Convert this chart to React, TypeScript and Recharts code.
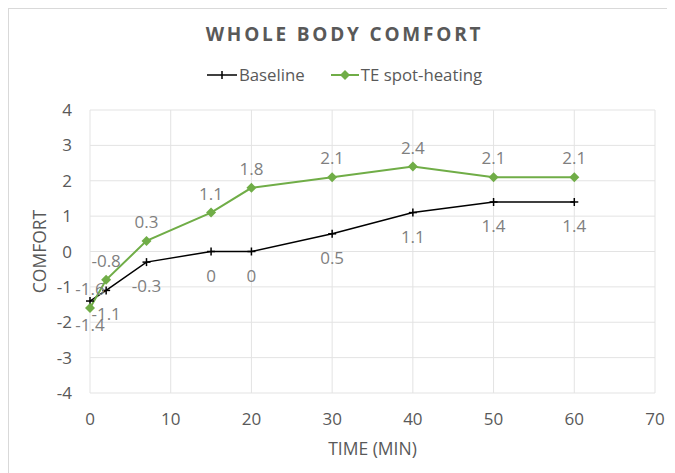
import React from "react";
import { LineChart, Line, XAxis, YAxis, CartesianGrid, LabelList } from "recharts";

const minutes = [0, 2, 7, 15, 20, 30, 40, 50, 60];
const baseline = [-1.4, -1.1, -0.3, 0, 0, 0.5, 1.1, 1.4, 1.4];
const spotHeating = [-1.6, -0.8, 0.3, 1.1, 1.8, 2.1, 2.4, 2.1, 2.1];
const xTicks = [0, 10, 20, 30, 40, 50, 60, 70];
const yTicks = [-4, -3, -2, -1, 0, 1, 2, 3, 4];

const chartData = minutes.map((t, i) => ({ t, baseline: baseline[i], te: spotHeating[i] }));

const FONT = "'Open Sans', sans-serif";
const GREEN = "#70ad47";
const TEXT = "#595959";
const LABEL = "#7f7f7f";

function PlusDot(props: any) {
  const { cx, cy } = props;
  if (cx == null || cy == null) return null;
  return (
    <g>
      <line x1={cx - 4} y1={cy} x2={cx + 4} y2={cy} stroke="#000" strokeWidth={1.5} />
      <line x1={cx} y1={cy - 4} x2={cx} y2={cy + 4} stroke="#000" strokeWidth={1.5} />
    </g>
  );
}

function DiamondDot(props: any) {
  const { cx, cy } = props;
  if (cx == null || cy == null) return null;
  return <path d={`M${cx},${cy - 5}L${cx + 5},${cy}L${cx},${cy + 5}L${cx - 5},${cy}Z`} fill={GREEN} />;
}

function ChartLegend() {
  return (
    <div
      style={{
        position: "absolute",
        top: 54,
        left: -2,
        width: 675,
        display: "flex",
        justifyContent: "center",
        alignItems: "center",
        fontFamily: FONT,
        fontSize: 16.8,
        color: TEXT,
      }}
    >
      <svg width={30} height={10} style={{ marginRight: 2 }}>
        <line x1={0} y1={5} x2={30} y2={5} stroke="#000" strokeWidth={1.5} />
        <line x1={15} y1={1} x2={15} y2={9} stroke="#000" strokeWidth={1.5} />
      </svg>
      <span style={{ marginRight: 26 }}>Baseline</span>
      <svg width={28} height={10} style={{ marginRight: 2 }}>
        <line x1={0} y1={5} x2={28} y2={5} stroke={GREEN} strokeWidth={2} />
        <path d="M14,0L19,5L14,10L9,5Z" fill={GREEN} />
      </svg>
      <span>TE spot-heating</span>
    </div>
  );
}

export default function App() {
  return (
    <div
      style={{
        position: "relative",
        width: 667,
        height: 465,
        borderTop: "1px solid #d9d9d9",
        borderLeft: "1px solid #d9d9d9",
        boxSizing: "border-box",
        background: "#fff",
        overflow: "hidden",
      }}
    >
      <div
        style={{
          position: "absolute",
          top: 12,
          left: -2,
          width: 675,
          textAlign: "center",
          fontFamily: FONT,
          fontWeight: 700,
          fontSize: 19,
          letterSpacing: 2.8,
          color: TEXT,
        }}
      >
        WHOLE BODY COMFORT
      </div>
      <ChartLegend />
      <LineChart
        width={666}
        height={464}
        data={chartData}
        margin={{ top: 101, right: 19, left: 22, bottom: 50 }}
        style={{ position: "absolute", top: 0, left: -1 }}
      >
        <CartesianGrid stroke="#e3e3e3" strokeWidth={1} />
        <XAxis
          dataKey="t"
          type="number"
          domain={[0, 70]}
          ticks={xTicks}
          axisLine={false}
          tickLine={false}
          tickSize={0}
          tickMargin={20}
          height={30}
          tick={{ fill: TEXT, fontSize: 17, fontFamily: FONT }}
          label={{ value: "TIME (MIN)", position: "bottom", offset: 20, fill: TEXT, fontSize: 17.5, fontFamily: FONT }}
        />
        <YAxis
          type="number"
          domain={[-4, 4]}
          ticks={yTicks}
          axisLine={false}
          tickLine={false}
          tickSize={0}
          tickMargin={18}
          width={60}
          tick={{ fill: TEXT, fontSize: 17, fontFamily: FONT }}
          label={{
            content: (p: any) => {
              const vb = p.viewBox;
              const x = vb.x + 9;
              const y = vb.y + vb.height / 2;
              return (
                <text x={x} y={y} transform={`rotate(-90 ${x} ${y})`} textAnchor="middle" dominantBaseline="central" fill={TEXT} fontSize={17.5} fontFamily={FONT}>
                  COMFORT
                </text>
              );
            },
          }}
        />
        <Line
          dataKey="baseline"
          name="Baseline"
          stroke="#000"
          strokeWidth={1.5}
          dot={<PlusDot />}
          activeDot={false}
          isAnimationActive={false}
        >
          <LabelList dataKey="baseline" position="bottom" offset={18} fill={LABEL} fontSize={17} fontFamily={FONT} />
        </Line>
        <Line
          dataKey="te"
          name="TE spot-heating"
          stroke={GREEN}
          strokeWidth={2}
          dot={<DiamondDot />}
          activeDot={false}
          isAnimationActive={false}
        >
          <LabelList dataKey="te" position="top" offset={13} fill={LABEL} fontSize={17} fontFamily={FONT} />
        </Line>
      </LineChart>
    </div>
  );
}
